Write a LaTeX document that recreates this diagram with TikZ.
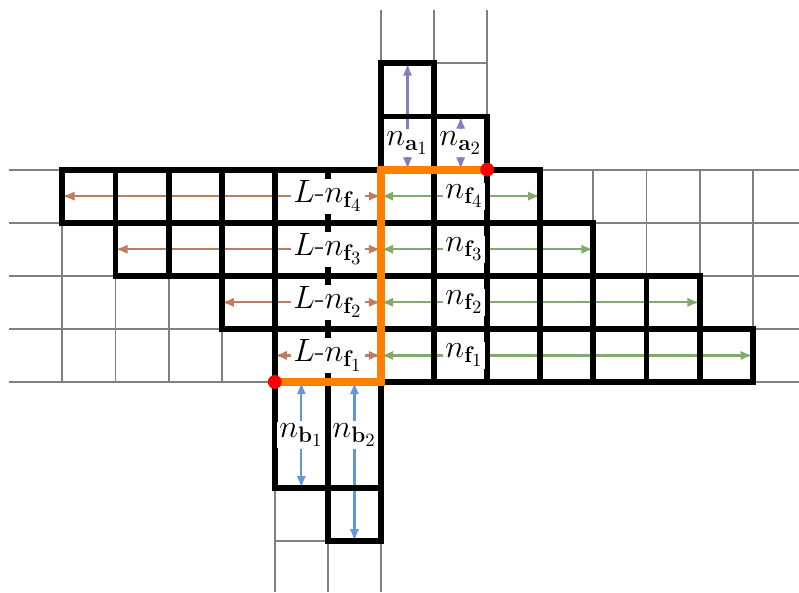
\documentclass[tikz,border=0pt]{standalone}
\usetikzlibrary{arrows.meta}
\definecolor{cbrown}{RGB}{190,125,95}
\definecolor{cgreen}{RGB}{130,170,110}
\definecolor{cpurple}{RGB}{135,125,190}
\definecolor{cblue}{RGB}{100,150,215}
\definecolor{corange}{RGB}{255,128,0}
\pgfdeclarelayer{gridlayer}
\pgfdeclarelayer{arrowlayer}
\pgfdeclarelayer{celllayer}
\pgfdeclarelayer{toplayer}
\pgfsetlayers{gridlayer,arrowlayer,celllayer,main,toplayer}
\begin{document}
\begin{tikzpicture}[
  gridline/.style={gray, line width=1pt},
  cellbox/.style={black, line width=3.2pt},
  meas/.style={line width=1.2pt, -{Latex[length=6.5pt,width=5pt]}},
  lbl/.style={fill=white, inner sep=1pt, font=\LARGE},
  boundary/.style={corange, line width=4.3pt},
  reddot/.style={circle, fill=red, minimum size=0.26cm, inner sep=0pt}
]
\useasboundingbox (-7.175,-3.955) rectangle (7.872,7.194);

% grey background grid
\begin{pgfonlayer}{gridlayer}
\foreach \j in {0,...,4} \draw[gridline] (-7,\j) -- (7.872,\j);
\foreach \i in {-6,...,7} \draw[gridline] (\i,0) -- (\i,4);
\foreach \i in {0,1,2} \draw[gridline] (\i,4) -- (\i,7);
\foreach \j in {5,6} \draw[gridline] (0,\j) -- (2,\j);
\foreach \i in {-2,-1,0} \draw[gridline] (\i,0) -- (\i,-3.955);
\foreach \j in {-1,-2,-3} \draw[gridline] (-2,\j) -- (0,\j);
\end{pgfonlayer}

% black cells
\begin{pgfonlayer}{celllayer}
\foreach \i in {-6,...,2} \draw[cellbox] (\i,3) rectangle +(1,1);
\foreach \i in {-5,...,3} \draw[cellbox] (\i,2) rectangle +(1,1);
\foreach \i in {-3,...,5} \draw[cellbox] (\i,1) rectangle +(1,1);
\foreach \i in {-2,...,6} \draw[cellbox] (\i,0) rectangle +(1,1);
\foreach \j in {4,5} \draw[cellbox] (0,\j) rectangle +(1,1);
\draw[cellbox] (1,4) rectangle +(1,1);
\foreach \j in {-1,-2} \draw[cellbox] (-2,\j) rectangle +(1,1);
\foreach \j in {-1,-2,-3} \draw[cellbox] (-1,\j) rectangle +(1,1);
\end{pgfonlayer}

% row measures
\foreach \k/\y/\l/\r in {4/3.5/-6/3, 3/2.5/-5/4, 2/1.5/-3/6, 1/0.5/-2/7} {
  \node[lbl] (L\k) at (-1,\y) {$L$-$n_{\mathbf{f}_\k}$};
  \node[lbl] (N\k) at (1.57,\y) {$n_{\mathbf{f}_\k}$};
  \coordinate (Lend\k) at (\l,\y);
  \coordinate (Mid\k) at (0,\y);
  \coordinate (Rend\k) at (\r,\y);
  \begin{pgfonlayer}{arrowlayer}
  \draw[meas,cbrown] (L\k) -- (Lend\k);
  \draw[meas,cbrown] (L\k) -- (Mid\k);
  \draw[meas,cgreen] (N\k) -- (Mid\k);
  \draw[meas,cgreen] (N\k) -- (Rend\k);
  \end{pgfonlayer}
}

% column measures
\node[lbl] (A1) at (0.5,4.5) {$n_{\mathbf{a}_1}$};
\node[lbl] (A2) at (1.5,4.5) {$n_{\mathbf{a}_2}$};
\node[lbl] (B1) at (-1.5,-1) {$n_{\mathbf{b}_1}$};
\node[lbl] (B2) at (-0.5,-1) {$n_{\mathbf{b}_2}$};
\coordinate (A1top) at (0.5,6);
\coordinate (A1bot) at (0.5,4);
\coordinate (A2top) at (1.5,5);
\coordinate (A2bot) at (1.5,4);
\coordinate (B1top) at (-1.5,0);
\coordinate (B1bot) at (-1.5,-2);
\coordinate (B2top) at (-0.5,0);
\coordinate (B2bot) at (-0.5,-3);
\begin{pgfonlayer}{arrowlayer}
\draw[meas,cpurple] (A1) -- (A1top);
\draw[meas,cpurple] (A1) -- (A1bot);
\draw[meas,cpurple] (A2) -- (A2top);
\draw[meas,cpurple] (A2) -- (A2bot);
\draw[meas,cblue] (B1) -- (B1top);
\draw[meas,cblue] (B1) -- (B1bot);
\draw[meas,cblue] (B2) -- (B2top);
\draw[meas,cblue] (B2) -- (B2bot);
\end{pgfonlayer}

% orange boundary and end points
\begin{pgfonlayer}{toplayer}
\coordinate (P0) at (-2,0);
\coordinate (P1) at (0,0);
\coordinate (P2) at (0,4);
\coordinate (P3) at (2,4);
\draw[boundary] (P0) -- (P1) -- (P2) -- (P3);
\node[reddot] (D1) at (P0) {};
\node[reddot] (D2) at (P3) {};
\end{pgfonlayer}
\end{tikzpicture}
\end{document}
